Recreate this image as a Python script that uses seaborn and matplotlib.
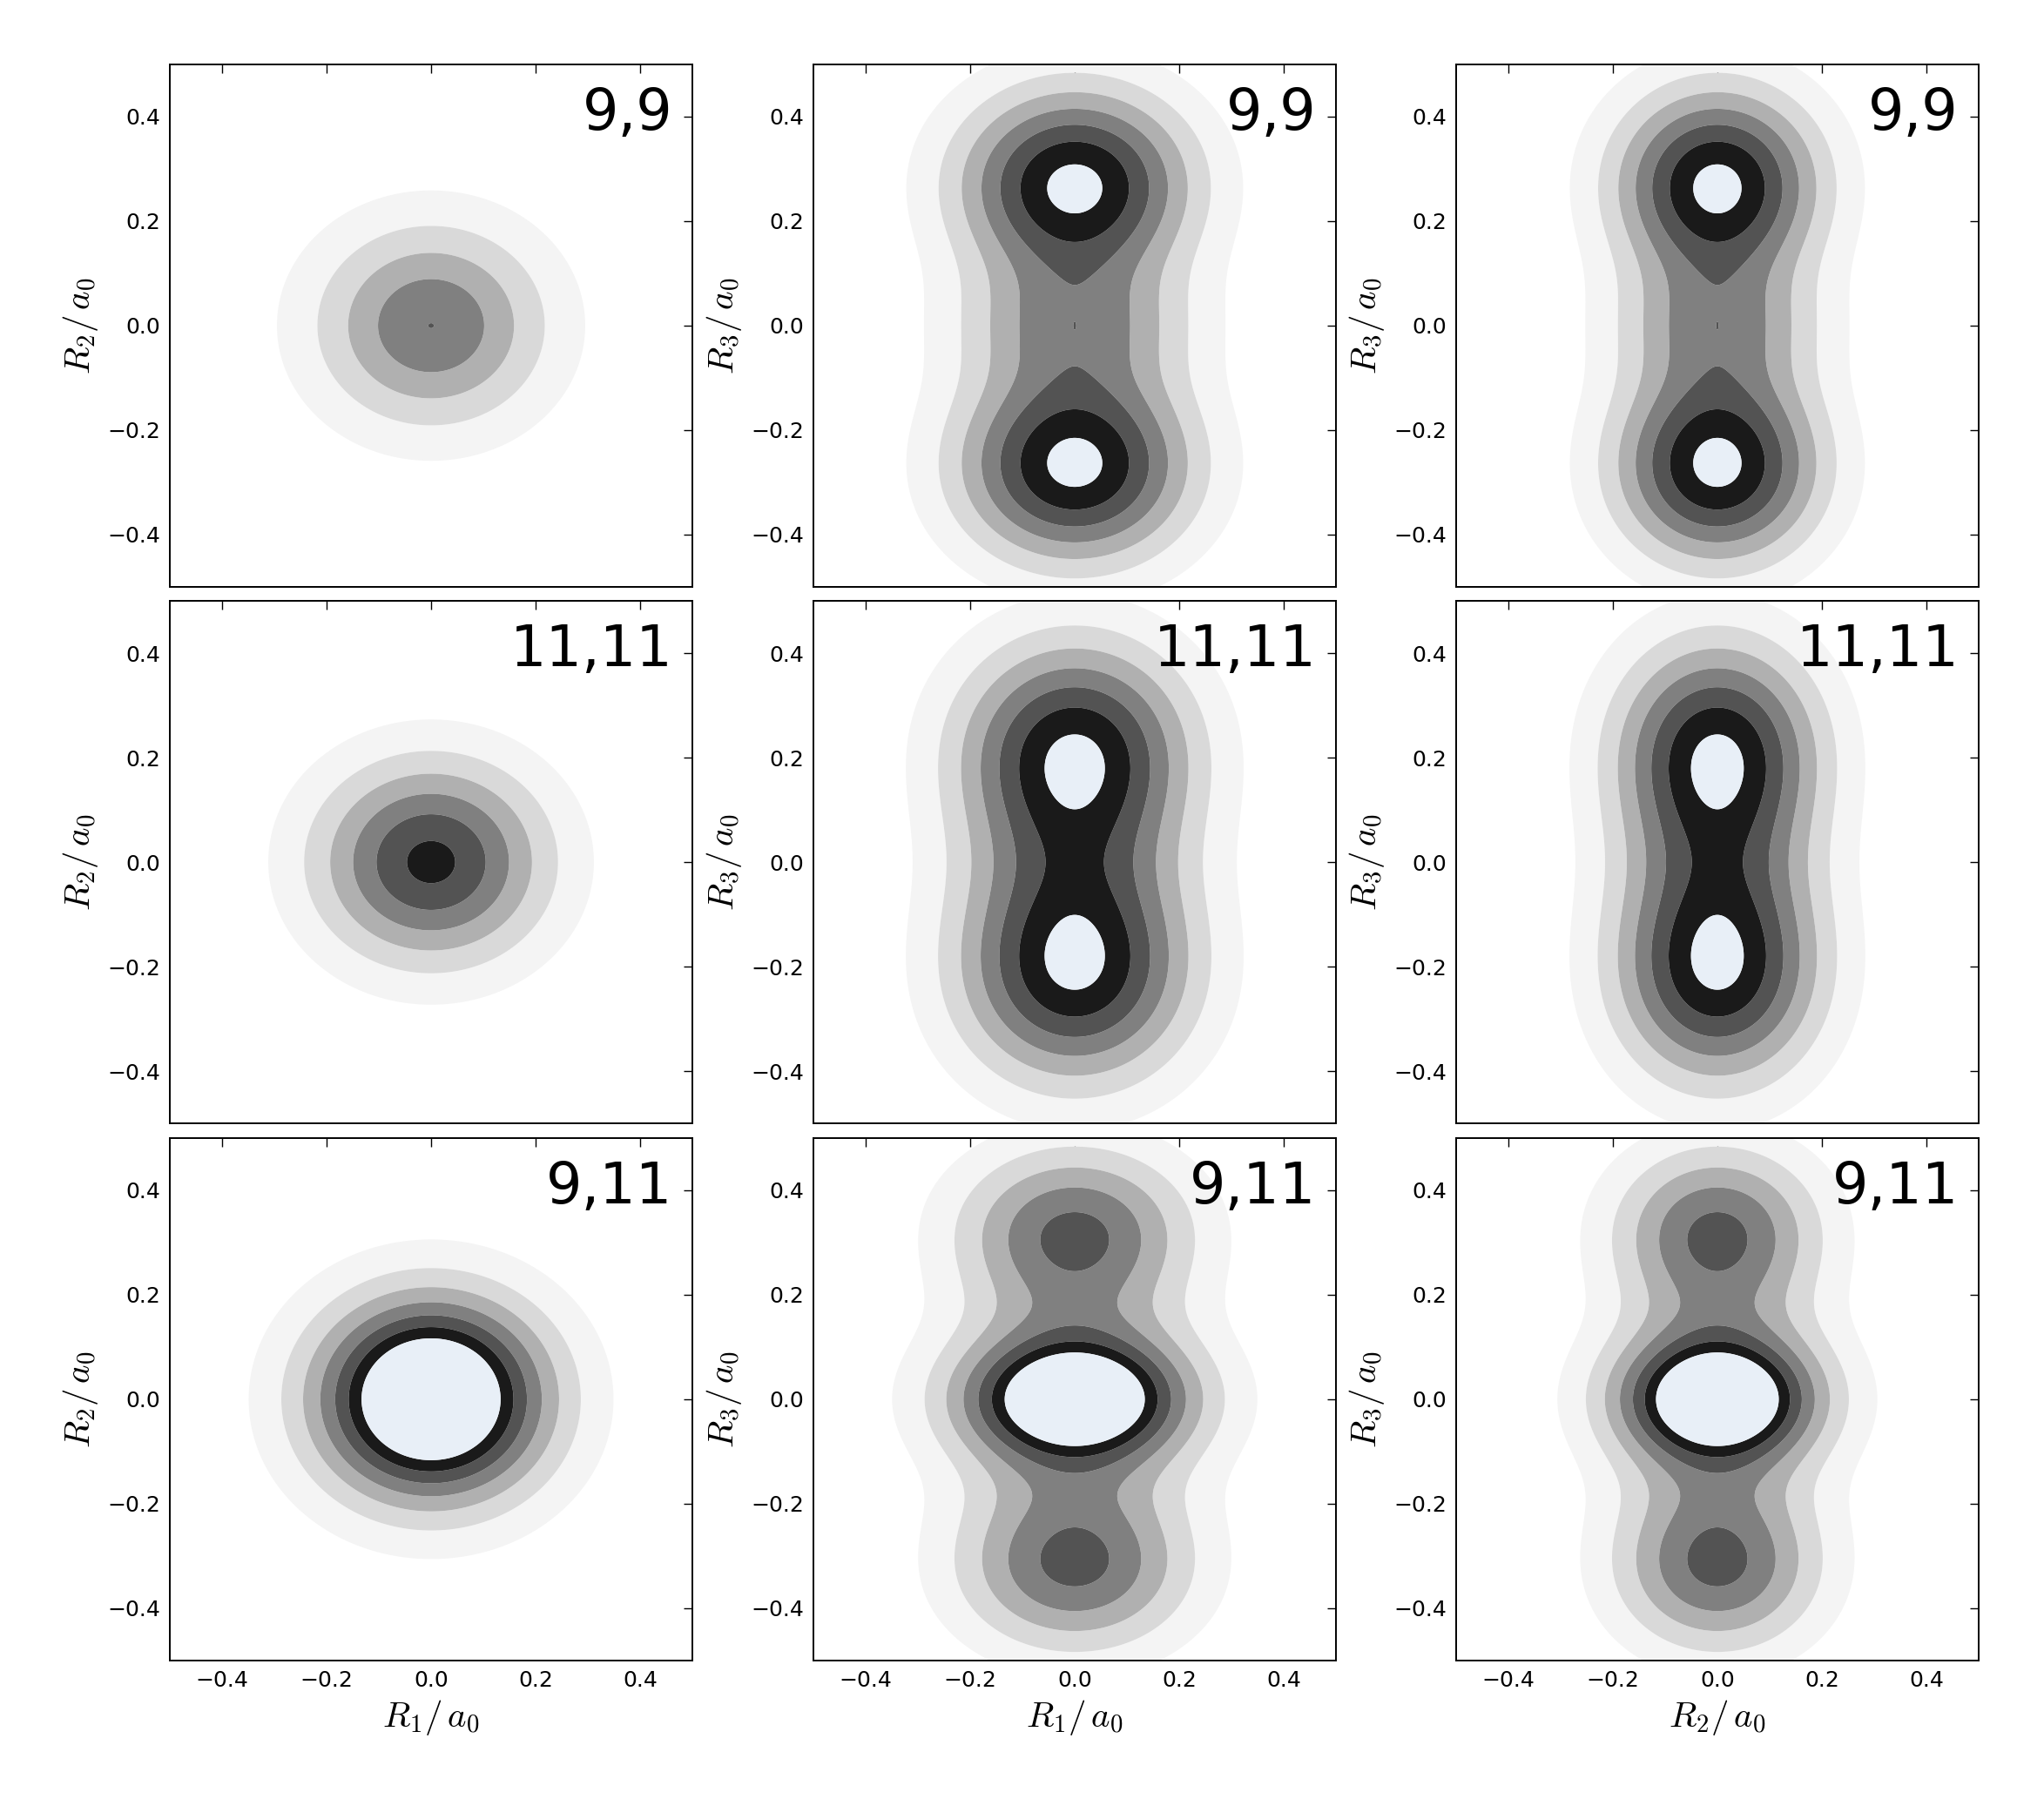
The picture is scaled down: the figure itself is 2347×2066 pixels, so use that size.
import numpy as np
import matplotlib
matplotlib.use("Agg")
import matplotlib.pyplot as plt
import seaborn as sns

# ── Panel data ─────────────────────────────────────────────────────────────
row_labels = ["9,9", "11,11", "9,11"]
x_labels = [r"$R_1/\,a_0$", r"$R_1/\,a_0$", r"$R_2/\,a_0$"]
y_labels = [r"$R_2/\,a_0$", r"$R_3/\,a_0$", r"$R_3/\,a_0$"]
ticks = [-0.4, -0.2, 0.0, 0.2, 0.4]

# contour levels (density units) and fill colours of the bands
levels = [1, 2, 3, 4, 5, 6, 7, 100]
band_colors = ["#f4f4f4", "#d9d9d9", "#b0b0b0", "#808080", "#535353", "#1a1a1a", "#e8eff7"]

# R1-R2 plane: one peak per row (amplitude, width R1, width R2, exponent)
amp_12 = [5.005, 6.3, 11.0]
sx_12 = [0.228, 0.226, 0.2106]
sy_12 = [0.200, 0.198, 0.1845]
pw_12 = [1.85, 1.9, 1.73]

# R1-R3 plane: several components per row
amp_13 = [[7.35, 7.35, 2.85, 0.05], [7.13, 7.13], [10.6, 5.35, 5.35]]
cy_13 = [[0.266, -0.266, 0.0, 0.0], [0.2007, -0.2007], [0.0, 0.312, -0.312]]
sx_13 = [[0.228, 0.228, 0.228, 0.005], [0.228, 0.228], [0.2106, 0.23, 0.23]]
sy_13 = [[0.191, 0.191, 0.1245, 0.015], [0.2236, 0.2236], [0.123, 0.173, 0.173]]
pw_13 = [[2, 2, 2, 2], [2, 2], [1.73, 2, 2]]

# R2 spread relative to R1 (R2-R3 plane = R1-R3 plane narrowed in x)
r2_scale = 0.876

grid = np.linspace(-0.5, 0.5, 801)
X, Y = np.meshgrid(grid, grid)


def density(amps, cys, sxs, sys_, pws, xscale=1.0):
    z = np.zeros_like(X)
    for a, cy, sx, sy, p in zip(amps, cys, sxs, sys_, pws):
        rho = np.hypot(X / (sx * xscale), (Y - cy) / sy)
        z += a * np.exp(-rho ** p)
    return z


# ── Style ──────────────────────────────────────────────────────────────────
sns.set_theme(style="white")
plt.rcParams["font.family"] = ["DejaVu Sans"]
plt.rcParams["mathtext.fontset"] = "cm"
plt.rcParams["axes.edgecolor"] = "black"
plt.rcParams["axes.linewidth"] = 1.4
plt.rcParams["text.color"] = "black"
plt.rcParams["axes.labelcolor"] = "black"
plt.rcParams["xtick.color"] = "black"
plt.rcParams["ytick.color"] = "black"

fig = plt.figure(figsize=(23.47, 20.66), dpi=100)
lefts = [0.0831, 0.398, 0.7124]
bottoms = [0.6738, 0.3756, 0.077]
w, h = 0.2556, 0.2904

for i, lab in enumerate(row_labels):
    fields = [
        density([amp_12[i]], [0.0], [sx_12[i]], [sy_12[i]], [pw_12[i]]),
        density(amp_13[i], cy_13[i], sx_13[i], sy_13[i], pw_13[i]),
        density(amp_13[i], cy_13[i], sx_13[i], sy_13[i], pw_13[i], xscale=r2_scale),
    ]
    for j, Z in enumerate(fields):
        ax = fig.add_axes([lefts[j], bottoms[i], w, h])
        ax.contourf(X, Y, Z, levels=levels, colors=band_colors, antialiased=True)
        ax.set_xlim(-0.5, 0.5)
        ax.set_ylim(-0.5, 0.5)
        ax.set_xticks(ticks)
        ax.set_yticks(ticks)
        ax.tick_params(direction="in", top=True, right=True, length=7, width=1,
                       labelsize=18, pad=8, color="black", labelcolor="black")
        if i < 2:
            ax.tick_params(labelbottom=False)
        else:
            ax.set_xlabel(x_labels[j], fontsize=29.5, labelpad=6)
        ax.set_ylabel(y_labels[j], fontsize=29.5, labelpad=6)
        ax.text(0.962, 0.958, lab, transform=ax.transAxes, ha="right", va="top",
                fontsize=47, color="black")
        for s in ax.spines.values():
            s.set_visible(True)

fig.savefig("out.png", dpi=100, facecolor="white")
